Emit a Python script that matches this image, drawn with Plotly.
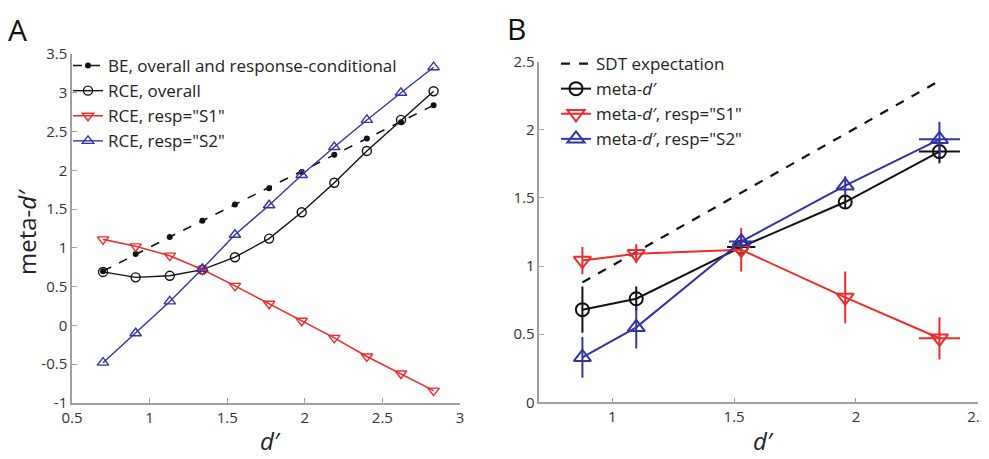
import plotly.graph_objects as go

# ---------------- Panel A data ----------------
a_dprime = [0.70, 0.91, 1.13, 1.34, 1.55, 1.77, 1.98, 2.19, 2.40, 2.62, 2.83]
a_be = [0.70, 0.92, 1.14, 1.35, 1.56, 1.77, 1.98, 2.20, 2.41, 2.62, 2.84]
a_rce_overall = [0.69, 0.62, 0.64, 0.72, 0.88, 1.12, 1.46, 1.84, 2.25, 2.65, 3.02]
a_rce_s1 = [1.11, 1.02, 0.90, 0.72, 0.51, 0.28, 0.06, -0.16, -0.40, -0.62, -0.84]
a_rce_s2 = [-0.48, -0.10, 0.31, 0.73, 1.17, 1.55, 1.94, 2.30, 2.65, 3.00, 3.33]

# ---------------- Panel B data ----------------
b_dprime = [0.877, 1.098, 1.529, 1.956, 2.343]
b_sdt = [0.88, 1.10, 1.53, 1.96, 2.36]
b_meta = [0.68, 0.76, 1.14, 1.47, 1.84]
b_meta_err = [0.17, 0.09, 0.04, 0.05, 0.085]
b_meta_xerr = [0, 0, 0.058, 0, 0.084]
b_s1 = [1.04, 1.09, 1.12, 0.77, 0.47]
b_s1_err = [0.10, 0.07, 0.16, 0.19, 0.155]
b_s1_xerr = [0, 0, 0, 0, 0.084]
b_s2 = [0.33, 0.55, 1.18, 1.59, 1.93]
b_s2_err = [0.15, 0.155, 0.05, 0.07, 0.13]
b_s2_xerr = [0, 0, 0.05, 0, 0.084]

RED = "#f22a2a"
BLUE = "#3333a3"
BLACK = "#111111"
FONT = "Open Sans"

# page has an 8px body margin -> figure is 981x451, placed at (8, 8)
OFF = 8
W, H = 989 - OFF, 459 - OFF


def sx(x):
    return (x - OFF) / W


def sy(y):
    return 1 - (y - OFF) / H


fig = go.Figure()

# Panel A traces
fig.add_trace(go.Scatter(
    x=a_dprime, y=a_be, mode="lines+markers", name="BE, overall and response-conditional",
    line=dict(color=BLACK, width=1.6, dash="dash"),
    marker=dict(symbol="circle", size=6, color=BLACK),
    xaxis="x", yaxis="y", legend="legend"))
fig.add_trace(go.Scatter(
    x=a_dprime, y=a_rce_overall, mode="lines+markers", name="RCE, overall",
    line=dict(color=BLACK, width=1.4),
    marker=dict(symbol="circle-open", size=9, color=BLACK, line=dict(width=1.4)),
    xaxis="x", yaxis="y", legend="legend"))
fig.add_trace(go.Scatter(
    x=a_dprime, y=a_rce_s1, mode="lines+markers", name='RCE, resp="S1"',
    line=dict(color=RED, width=1.6),
    marker=dict(symbol="triangle-down-open", size=10, color=RED, line=dict(width=1.4)),
    xaxis="x", yaxis="y", legend="legend"))
fig.add_trace(go.Scatter(
    x=a_dprime, y=a_rce_s2, mode="lines+markers", name='RCE, resp="S2"',
    line=dict(color=BLUE, width=1.4),
    marker=dict(symbol="triangle-up-open", size=10, color=BLUE, line=dict(width=1.4)),
    xaxis="x", yaxis="y", legend="legend"))

# Panel B traces
fig.add_trace(go.Scatter(
    x=[b_dprime[0], b_dprime[-1]], y=[b_sdt[0], b_sdt[-1]], mode="lines", name="SDT expectation",
    line=dict(color=BLACK, width=2.2, dash="dash"),
    xaxis="x2", yaxis="y2", legend="legend2"))
fig.add_trace(go.Scatter(
    x=b_dprime, y=b_meta, mode="lines+markers", name="meta-<i>d′</i>",
    line=dict(color=BLACK, width=2),
    marker=dict(symbol="circle-open", size=13, color=BLACK, line=dict(width=2)),
    error_y=dict(type="data", array=b_meta_err, color=BLACK, thickness=2, width=0),
    error_x=dict(type="data", array=b_meta_xerr, color=BLACK, thickness=2, width=0),
    xaxis="x2", yaxis="y2", legend="legend2"))
fig.add_trace(go.Scatter(
    x=b_dprime, y=b_s1, mode="lines+markers", name='meta-<i>d′</i>, resp="S1"',
    line=dict(color=RED, width=2),
    marker=dict(symbol="triangle-down-open", size=15, color=RED, line=dict(width=2)),
    error_y=dict(type="data", array=b_s1_err, color=RED, thickness=2, width=0),
    error_x=dict(type="data", array=b_s1_xerr, color=RED, thickness=2, width=0),
    xaxis="x2", yaxis="y2", legend="legend2"))
fig.add_trace(go.Scatter(
    x=b_dprime, y=b_s2, mode="lines+markers", name='meta-<i>d′</i>, resp="S2"',
    line=dict(color=BLUE, width=2),
    marker=dict(symbol="triangle-up-open", size=15, color=BLUE, line=dict(width=2)),
    error_y=dict(type="data", array=b_s2_err, color=BLUE, thickness=2, width=0),
    error_x=dict(type="data", array=b_s2_xerr, color=BLUE, thickness=2, width=0),
    xaxis="x2", yaxis="y2", legend="legend2"))


def ax(**kw):
    base = dict(showgrid=False, zeroline=False, showline=True, linecolor="#a0a0a0", linewidth=1.5,
                ticks="inside", ticklen=5, tickcolor="#a0a0a0", tickwidth=1.2, automargin=False,
                tickfont=dict(family=FONT, size=15, color="#333333"), mirror=False)
    base.update(kw)
    return base


def label(text, x, y, angle=0, size=24):
    return dict(text=text, x=sx(x), y=sy(y), xref="paper", yref="paper", xanchor="center",
                yanchor="middle", showarrow=False, textangle=angle,
                font=dict(family=FONT, size=size, color="#222222"))


fig.update_layout(
    width=W, height=H, margin=dict(l=0, r=0, t=0, b=0, autoexpand=False),
    paper_bgcolor="white", plot_bgcolor="white",
    font=dict(family=FONT, color="#222222"),
    xaxis=ax(domain=[sx(72), sx(460)], range=[0.5, 3], tickvals=[0.5, 1, 1.5, 2, 2.5, 3],
             ticktext=["0.5", "1", "1.5", "2", "2.5", "3"], anchor="y"),
    yaxis=ax(domain=[sy(403), sy(54)], range=[-1, 3.5], tickvals=[-1, -0.5, 0, 0.5, 1, 1.5, 2, 2.5, 3, 3.5],
             ticktext=["-1", "-0.5", "0", "0.5", "1", "1.5", "2", "2.5", "3", "3.5"], anchor="x"),
    xaxis2=ax(domain=[sx(539.3), sx(977.7)], range=[0.7, 2.5], tickvals=[1, 1.5, 2, 2.5],
              ticktext=["1", "1.5", "2", "2.5"], anchor="y2"),
    yaxis2=ax(domain=[sy(402.3), sy(61.7)], range=[0, 2.5], tickvals=[0, 0.5, 1, 1.5, 2, 2.5],
              ticktext=["0", "0.5", "1", "1.5", "2", "2.5"], anchor="x2"),
    legend=dict(x=sx(68), y=sy(48), xanchor="left", yanchor="top", bgcolor="rgba(0,0,0,0)",
                font=dict(family=FONT, size=17, color="#222222"), tracegroupgap=0, itemwidth=30),
    legend2=dict(x=sx(556), y=sy(46), xanchor="left", yanchor="top", bgcolor="rgba(0,0,0,0)",
                 font=dict(family=FONT, size=17, color="#222222"), tracegroupgap=0, itemwidth=30),
    annotations=[
        dict(text="A", x=sx(6), y=sy(7), xref="paper", yref="paper", xanchor="left", yanchor="top",
             showarrow=False, font=dict(family=FONT, size=30, color="#111111")),
        dict(text="B", x=sx(505), y=sy(6), xref="paper", yref="paper", xanchor="left", yanchor="top",
             showarrow=False, font=dict(family=FONT, size=30, color="#111111")),
        label("meta-<i>d′</i>", 26, 232, angle=-90),
        label("<i>d′</i>", 270, 440),
        label("<i>d′</i>", 763, 440),
    ],
)

fig.write_html("out.html")
